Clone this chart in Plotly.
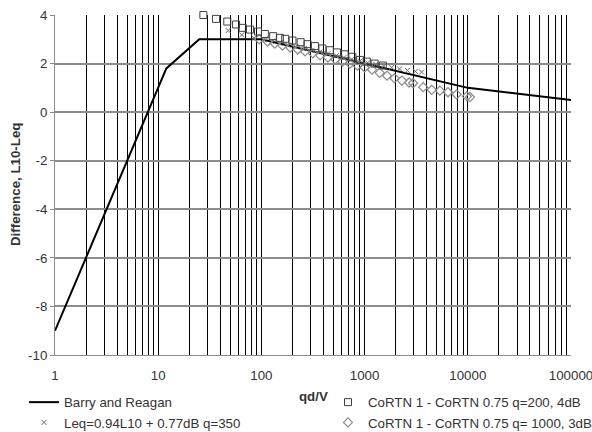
import plotly.graph_objects as go

# Barry and Reagan reference curve
br_x = [1, 12, 25, 100, 1000, 10000, 100000]
br_y = [-9.0, 1.8, 3.0, 3.0, 2.0, 1.0, 0.5]

# CoRTN 1 - CoRTN 0.75, q=200, 4dB
sq_x = [27.4, 36.3, 46.7, 56.8, 65.9, 77.5, 92.7, 108, 130, 151, 170, 200, 240, 280,
        330, 390, 460, 540, 640, 760, 900, 1050, 1250, 1500]
sq_y = [4.00, 3.84, 3.73, 3.61, 3.47, 3.40, 3.32, 3.22, 3.13, 3.06, 3.02, 2.95, 2.88, 2.80,
        2.72, 2.62, 2.55, 2.46, 2.38, 2.28, 2.15, 2.08, 2.00, 1.92]

# Leq = 0.94 L10 + 0.77 dB, q=350
lx_x = [47.6, 64.5, 85, 105, 125, 150, 180, 215, 260, 310, 370, 440, 530, 630, 750,
        900, 1070, 1280, 1530, 1830, 2180, 2600, 3100, 3570]
lx_y = [3.36, 3.18, 3.05, 2.98, 2.90, 2.84, 2.76, 2.70, 2.62, 2.55, 2.47, 2.40, 2.32, 2.25,
        2.18, 2.10, 2.03, 1.97, 1.90, 1.84, 1.78, 1.72, 1.68, 1.65]

# CoRTN 1 - CoRTN 0.75, q=1000, 3dB
dm_x = [95, 115, 135, 160, 190, 225, 265, 315, 370, 440, 520, 610, 720, 850, 1000, 1180,
        1400, 1650, 1950, 2300, 2700, 2950, 3700, 4470, 5370, 6430, 7800, 9800, 10500]
dm_y = [3.00, 2.90, 2.82, 2.74, 2.66, 2.58, 2.50, 2.42, 2.34, 2.25, 2.17, 2.08, 2.00, 1.92,
        1.84, 1.75, 1.62, 1.50, 1.40, 1.30, 1.22, 1.19, 1.03, 0.92, 0.89, 0.82, 0.73, 0.65, 0.62]

# log grid positions and labels
grid_vals = [m * 10 ** e for e in range(0, 5) for m in range(1, 10)] + [100000]
major_labels = {1: "1", 10: "10", 100: "100", 1000: "1000", 10000: "10000", 100000: "100000"}
grid_text = [major_labels.get(v, "") for v in grid_vals]
y_ticks = [-10, -8, -6, -4, -2, 0, 2, 4]
y_text = [str(v) for v in y_ticks]

FONT = "Liberation Sans, Arial, sans-serif"
TXT = "#333333"
FS = 13.3

fig = go.Figure()

fig.add_trace(go.Scatter(
    x=br_x, y=br_y, mode="lines", name="Barry and Reagan",
    line=dict(color="black", width=2), legend="legend"))

fig.add_trace(go.Scatter(
    x=lx_x, y=lx_y, mode="markers", name="Leq=0.94L10 + 0.77dB q=350",
    marker=dict(symbol="x-thin-open", size=5, color="#6a6a6a", line=dict(color="#6a6a6a", width=1)),
    legend="legend", cliponaxis=False))

fig.add_trace(go.Scatter(
    x=dm_x, y=dm_y, mode="markers", name="CoRTN 1 - CoRTN 0.75 q= 1000, 3dB",
    marker=dict(symbol="diamond-open", size=7, color="#8a8a8a", line=dict(width=1.2)),
    legend="legend2", cliponaxis=False))

fig.add_trace(go.Scatter(
    x=sq_x, y=sq_y, mode="markers", name="CoRTN 1 - CoRTN 0.75 q=200, 4dB",
    marker=dict(symbol="square-open", size=7, color="#404040", line=dict(width=1)),
    legend="legend2", cliponaxis=False))

fig.update_layout(
    width=592, height=432,
    margin=dict(l=55, r=21, t=14.5, b=77, autoexpand=False),
    paper_bgcolor="white", plot_bgcolor="white",
    font=dict(family=FONT, size=FS, color=TXT),
    showlegend=True,
    legend=dict(xref="container", yref="container", x=24 / 592, y=1 - 387 / 432,
                xanchor="left", yanchor="top", bgcolor="rgba(0,0,0,0)",
                font=dict(size=FS, color=TXT), traceorder="normal",
                tracegroupgap=0, itemwidth=30),
    legend2=dict(xref="container", yref="container", x=328 / 592, y=1 - 387 / 432,
                 xanchor="left", yanchor="top", bgcolor="rgba(0,0,0,0)",
                 font=dict(size=FS, color=TXT), traceorder="reversed",
                 tracegroupgap=0, itemwidth=30),
    annotations=[
        dict(text="<b>Difference, L10-Leq</b>", textangle=-90,
             xref="paper", yref="paper", x=(15 - 55) / 516, y=0.5,
             xanchor="center", yanchor="middle", showarrow=False,
             font=dict(size=FS, color=TXT)),
        dict(text="<b>qd/V</b>", xref="paper", yref="paper",
             x=0.5, y=(355 - 397) / 340.5, xanchor="center", yanchor="middle",
             showarrow=False, font=dict(size=FS, color=TXT)),
    ],
)

fig.update_xaxes(
    type="log", range=[0, 5],
    tickmode="array", tickvals=grid_vals, ticktext=grid_text,
    showgrid=True, gridcolor="black", gridwidth=1,
    showline=True, linecolor="#8c8c8c", linewidth=1,
    ticks="", ticklabelstandoff=8, ticklabeloverflow="allow",
    tickfont=dict(size=FS, color=TXT),
    zeroline=False,
)

fig.update_yaxes(
    range=[-10, 4], tickmode="array", tickvals=y_ticks, ticktext=y_text,
    showgrid=True, gridcolor="#8c8c8c", gridwidth=1.5,
    showline=True, linecolor="#8c8c8c", linewidth=1,
    ticks="outside", ticklen=4, tickcolor="#8c8c8c",
    tickfont=dict(size=FS, color=TXT),
    zeroline=False,
)

fig.write_html("out.html")
